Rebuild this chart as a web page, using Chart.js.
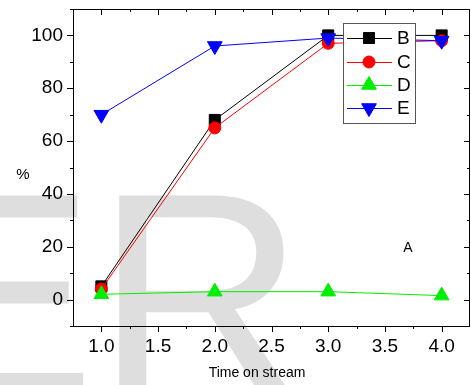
<!DOCTYPE html>
<html>
<head>
<meta charset="utf-8">
<script src="https://cdn.jsdelivr.net/npm/chart.js@4/dist/chart.umd.min.js"></script>
<style>
  html, body { margin: 0; padding: 0; background: #fff; }
  canvas { display: block; }
</style>
</head>
<body>
<canvas id="chart" width="471" height="385"></canvas>
<script>
// data
const times = [1.0, 2.0, 3.0, 4.0];
const seriesB = [5, 68, 100, 100];
const seriesC = [4, 65, 97, 98];
const seriesD = [2, 3, 3, 1.5];
const seriesE = [70, 96, 99, 98];

const xTicks = [1.0, 1.5, 2.0, 2.5, 3.0, 3.5, 4.0];
const xMinor = [1.25, 1.75, 2.25, 2.75, 3.25, 3.75];
const yTicks = [0, 20, 40, 60, 80, 100];
const yMinor = [-10, 10, 30, 50, 70, 90, 110];

const FONT = '"Liberation Sans", Arial, sans-serif';

const points = (ys) => times.map((t, i) => ({ x: t, y: ys[i] }));

function marker(ctx, style, r, rot, x, y, color) {
  ctx.save();
  ctx.fillStyle = color;
  ctx.strokeStyle = color;
  ctx.lineWidth = 1;
  if (Chart.helpers && Chart.helpers.drawPoint) {
    Chart.helpers.drawPoint(ctx, { pointStyle: style, radius: r, rotation: rot, borderWidth: 1 }, x, y);
  }
  ctx.restore();
}

// grey "ER" stamp behind the chart
const watermark = {
  id: "watermark",
  beforeDraw(chart) {
    const ctx = chart.ctx;
    ctx.save();
    ctx.fillStyle = "#dedede";
    ctx.font = "290px " + FONT;
    ctx.textBaseline = "alphabetic";
    ctx.fillText("ER", -98, 395);
    ctx.restore();
  },
};

// frame, Origin style ticks, labels and legend box
const frame = {
  id: "frame",
  afterDraw(chart) {
    const ctx = chart.ctx;
    const a = chart.chartArea;
    const xs = chart.scales.x;
    const ys = chart.scales.y;
    ctx.save();
    ctx.strokeStyle = "#000";
    ctx.lineWidth = 1;
    ctx.strokeRect(a.left + 0.5, a.top + 0.5, a.right - a.left - 1, a.bottom - a.top);

    ctx.beginPath();
    const tx = (v, len) => {
      const p = Math.round(xs.getPixelForValue(v)) + 0.5;
      ctx.moveTo(p, a.bottom); ctx.lineTo(p, a.bottom + len);
      ctx.moveTo(p, a.top); ctx.lineTo(p, a.top + len);
    };
    const ty = (v, len) => {
      const p = Math.round(ys.getPixelForValue(v)) + 0.5;
      ctx.moveTo(a.left, p); ctx.lineTo(a.left - len, p);
      ctx.moveTo(a.right, p); ctx.lineTo(a.right - len, p);
    };
    xTicks.forEach((v) => tx(v, 6));
    xMinor.forEach((v) => tx(v, 3));
    yTicks.forEach((v) => ty(v, 6));
    yMinor.forEach((v) => ty(v, 3));
    ctx.stroke();

    ctx.fillStyle = "#000";
    ctx.textAlign = "center";
    ctx.textBaseline = "middle";
    ctx.font = "14px " + FONT;
    ctx.fillText("Time on stream", 257, 373);
    ctx.font = "15px " + FONT;
    ctx.fillText("%", 23, 175);
    ctx.font = "14px " + FONT;
    ctx.fillText("A", 408, 248);

    // legend
    ctx.fillStyle = "#fff";
    ctx.fillRect(343, 23, 72, 100);
    ctx.strokeStyle = "#555";
    ctx.strokeRect(343.5, 23.5, 72, 100);
    const rows = [38, 62, 85, 108];
    chart.data.datasets.forEach((ds, i) => {
      const y = rows[i];
      ctx.strokeStyle = ds.borderColor;
      ctx.beginPath();
      ctx.moveTo(347, y + 0.5);
      ctx.lineTo(392, y + 0.5);
      ctx.stroke();
      marker(ctx, ds.pointStyle, ds.pointRadius, ds.pointRotation || 0, 369, y, ds.pointBackgroundColor);
      ctx.fillStyle = "#000";
      ctx.font = "19px " + FONT;
      ctx.textAlign = "left";
      ctx.fillText(ds.label, 397, y + 1);
    });
    ctx.restore();
  },
};

const noPad = (s) => {
  s.paddingLeft = 0; s.paddingRight = 0; s.paddingTop = 0; s.paddingBottom = 0;
};

new Chart(document.getElementById("chart"), {
  type: "line",
  data: {
    datasets: [
      {
        label: "B",
        data: points(seriesB),
        borderColor: "#000000",
        pointBackgroundColor: "#000000",
        pointBorderColor: "#000000",
        pointStyle: "rect",
        pointRadius: 7.8,
        order: 4,
      },
      {
        label: "C",
        data: points(seriesC),
        borderColor: "#ff0000",
        pointBackgroundColor: "#ff0000",
        pointBorderColor: "#ff0000",
        pointStyle: "circle",
        pointRadius: 6,
        order: 3,
      },
      {
        label: "D",
        data: points(seriesD),
        borderColor: "#00ee00",
        pointBackgroundColor: "#00ee00",
        pointBorderColor: "#00ee00",
        pointStyle: "triangle",
        pointRadius: 8.5,
        order: 2,
      },
      {
        label: "E",
        data: points(seriesE),
        borderColor: "#0000ff",
        pointBackgroundColor: "#0000ff",
        pointBorderColor: "#0000ff",
        pointStyle: "triangle",
        pointRotation: 180,
        pointRadius: 8.5,
        order: 1,
      },
    ],
  },
  options: {
    responsive: false,
    animation: false,
    layout: { autoPadding: false, padding: { top: 9, right: 1, left: 0, bottom: 0 } },
    elements: { line: { borderWidth: 1, tension: 0 }, point: { borderWidth: 1 } },
    plugins: { legend: { display: false }, tooltip: { enabled: false } },
    scales: {
      x: {
        type: "linear",
        min: 0.75,
        max: 4.25,
        afterBuildTicks: (s) => { s.ticks = xTicks.map((v) => ({ value: v })); },
        afterFit: (s) => { s.height = 59; noPad(s); },
        grid: { display: false, drawTicks: false },
        border: { display: false },
        ticks: {
          color: "#000",
          font: { family: FONT, size: 19 },
          padding: 9,
          maxRotation: 0,
          autoSkip: false,
          callback: (v) => v.toFixed(1),
        },
      },
      y: {
        min: -10,
        max: 110,
        afterBuildTicks: (s) => { s.ticks = yTicks.map((v) => ({ value: v })); },
        afterFit: (s) => { s.width = 73; noPad(s); },
        grid: { display: false, drawTicks: false },
        border: { display: false },
        ticks: {
          color: "#000",
          font: { family: FONT, size: 19 },
          padding: 10,
          callback: (v) => v,
        },
      },
    },
  },
  plugins: [watermark, frame],
});
</script>
</body>
</html>
